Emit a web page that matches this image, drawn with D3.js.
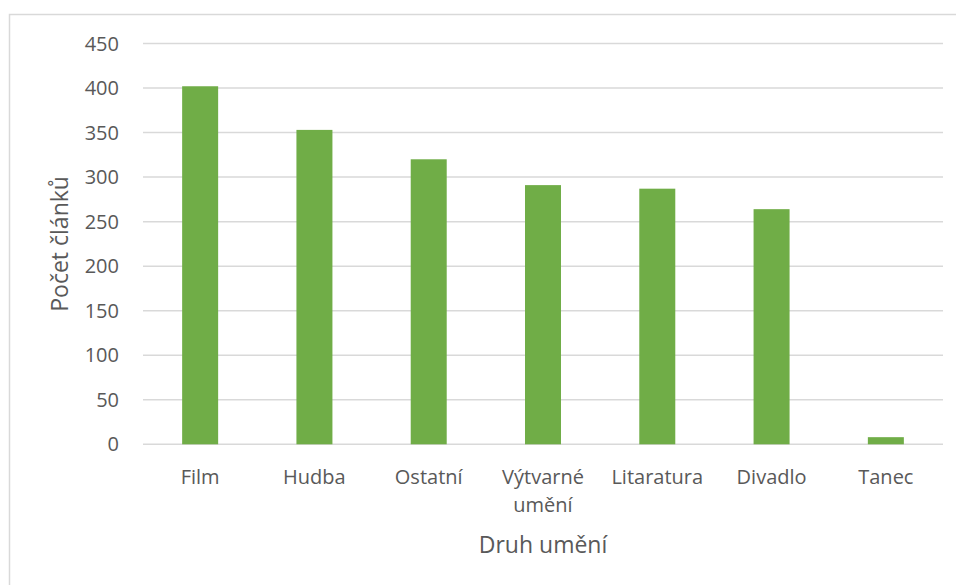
<!DOCTYPE html>
<html>
<head>
<meta charset="utf-8">
<script src="https://cdn.jsdelivr.net/npm/d3@7"></script>
<style>
  body { margin: 0; background: #fff; }
  text { font-family: "Open Sans", Lato, sans-serif; fill: #595959; }
</style>
</head>
<body>
<div id="chart"></div>
<script>
// Data
const categories = ["Film", "Hudba", "Ostatní", "Výtvarné umění", "Litaratura", "Divadlo", "Tanec"];
const values = [402, 353, 320, 291, 287, 264, 8];
const yTicks = [0, 50, 100, 150, 200, 250, 300, 350, 400, 450];

const W = 956, H = 585;
const plot = {left: 143, right: 943, top: 43.5, bottom: 444.3};

const svg = d3.select("#chart")
              .append("svg")
              .attr("width", W)
              .attr("height", H);

// chart border (runs off the right and bottom edge)
svg.append("rect")
   .attr("x", 9.5)
   .attr("y", 14.5)
   .attr("width", W + 20)
   .attr("height", H + 20)
   .attr("fill", "none")
   .attr("stroke", "#d9d9d9")
   .attr("stroke-width", 1.5);

const x = d3.scaleBand()
            .domain(categories)
            .range([plot.left, plot.right]);

const y = d3.scaleLinear()
            .domain([0, 450])
            .range([plot.bottom, plot.top]);

// gridlines
svg.append("g")
   .selectAll("line")
   .data(yTicks)
   .enter()
   .append("line")
   .attr("x1", plot.left)
   .attr("x2", plot.right)
   .attr("y1", d => y(d))
   .attr("y2", d => y(d))
   .attr("stroke", "#d9d9d9")
   .attr("stroke-width", 1.5);

// y tick labels
svg.append("g")
   .selectAll("text")
   .data(yTicks)
   .enter()
   .append("text")
   .attr("x", 119)
   .attr("y", d => y(d))
   .attr("dy", "0.35em")
   .attr("text-anchor", "end")
   .style("font-size", "20px")
   .text(d => d);

// bars
const barW = x.bandwidth() * 0.315;
svg.append("g")
   .selectAll("rect")
   .data(values)
   .enter()
   .append("rect")
   .attr("x", (d, i) => x(categories[i]) + x.bandwidth() / 2 - barW / 2)
   .attr("y", d => y(d))
   .attr("width", barW)
   .attr("height", d => y(0) - y(d))
   .attr("fill", "#70ad47");

// x labels (wrapped on space where needed)
const xl = svg.append("g")
              .selectAll("text")
              .data(categories)
              .enter()
              .append("text")
              .attr("text-anchor", "middle")
              .attr("x", d => x(d) + x.bandwidth() / 2)
              .attr("y", 484)
              .style("font-size", "20px");

xl.each(function(d) {
    const words = d.split(" ");
    const t = d3.select(this);
    words.forEach((w, i) => {
        t.append("tspan")
         .attr("x", x(d) + x.bandwidth() / 2)
         .attr("dy", i === 0 ? 0 : 28)
         .text(w);
    });
});

// axis titles
svg.append("text")
   .attr("x", (plot.left + plot.right) / 2)
   .attr("y", 553)
   .attr("text-anchor", "middle")
   .style("font-size", "23px")
   .text("Druh umění");

svg.append("text")
   .attr("transform", `translate(68, ${(plot.top + plot.bottom) / 2}) rotate(-90)`)
   .attr("text-anchor", "middle")
   .style("font-size", "23px")
   .text("Počet článků");
</script>
</body>
</html>
